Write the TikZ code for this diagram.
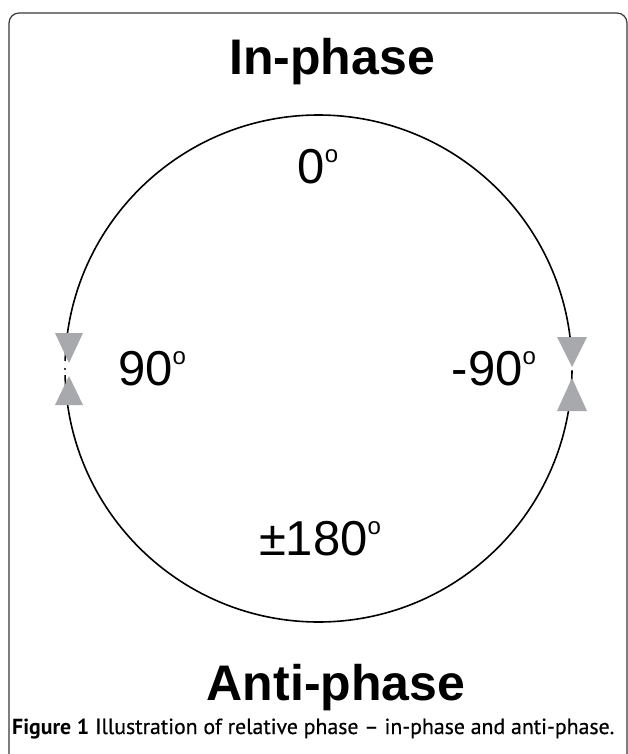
\documentclass[tikz,border=0pt]{standalone}
\usepackage{fontspec}
\setmainfont{Liberation Sans}
\newfontfamily\capfont{PT Sans}
\newfontfamily\capfontmed[FakeBold=0.5]{PT Sans}
\definecolor{arrowgray}{HTML}{A7A9AC}
\definecolor{framegray}{HTML}{3A3A3A}
\begin{document}
\begin{tikzpicture}[x=1pt,y=-1pt,
  title/.style={font=\fontsize{50}{50}\selectfont\bfseries, anchor=base, inner sep=0pt},
  angle/.style={font=\fontsize{49}{49}\selectfont, anchor=base, inner sep=0pt},
  tri/.style={fill=arrowgray, draw=none},
  ring/.style={line width=1.6pt, black}]
\useasboundingbox (0,0) rectangle (628,754);
\fill[white] (0,0) rectangle (628,754);
% frame
\draw[framegray, line width=1.2pt, rounded corners=10pt] (9,790) -- (9,13) -- (627,13) -- (627,790);
% circle arcs
\coordinate (c) at (318.5,368.5);
\draw[ring] ([shift={(0.4:253.5)}]c) arc[start angle=0.4, end angle=178.5, radius=253.5];
\draw[ring] ([shift={(181.7:253.5)}]c) arc[start angle=181.7, end angle=357.9, radius=253.5];
\fill[black] (65,369) circle (1.2);
% triangles
\fill[tri] (55,333) -- (83,333) -- (69,363) -- cycle;
\fill[tri] (55,405) -- (83,405) -- (69,376) -- cycle;
\fill[tri] (557,337) -- (587,337) -- (572,367) -- cycle;
\fill[tri] (557,411) -- (587,411) -- (572,378) -- cycle;
% texts
\node[title] (inphase) at (332,75) {In-phase};
\node[title] (antiphase) at (336,700) {Anti-phase};
\newcommand\degsym{\raisebox{0.42em}{\fontsize{24}{24}\selectfont o}}
\node[angle] (zero) at (318,183) {0\degsym};
\node[angle] (ninety) at (152,385) {90\degsym};
\node[angle] (mninety) at (494,385) {-90\degsym};
\node[angle] (oneeighty) at (320,555) {±180\degsym};
\node[anchor=base west, inner sep=0pt, font=\fontsize{21.8}{22}\selectfont] (caption) at (12,734) {{\capfont\bfseries Figure 1} {\capfontmed Illustration of relative phase – in-phase and anti-phase.}};
\end{tikzpicture}
\end{document}
